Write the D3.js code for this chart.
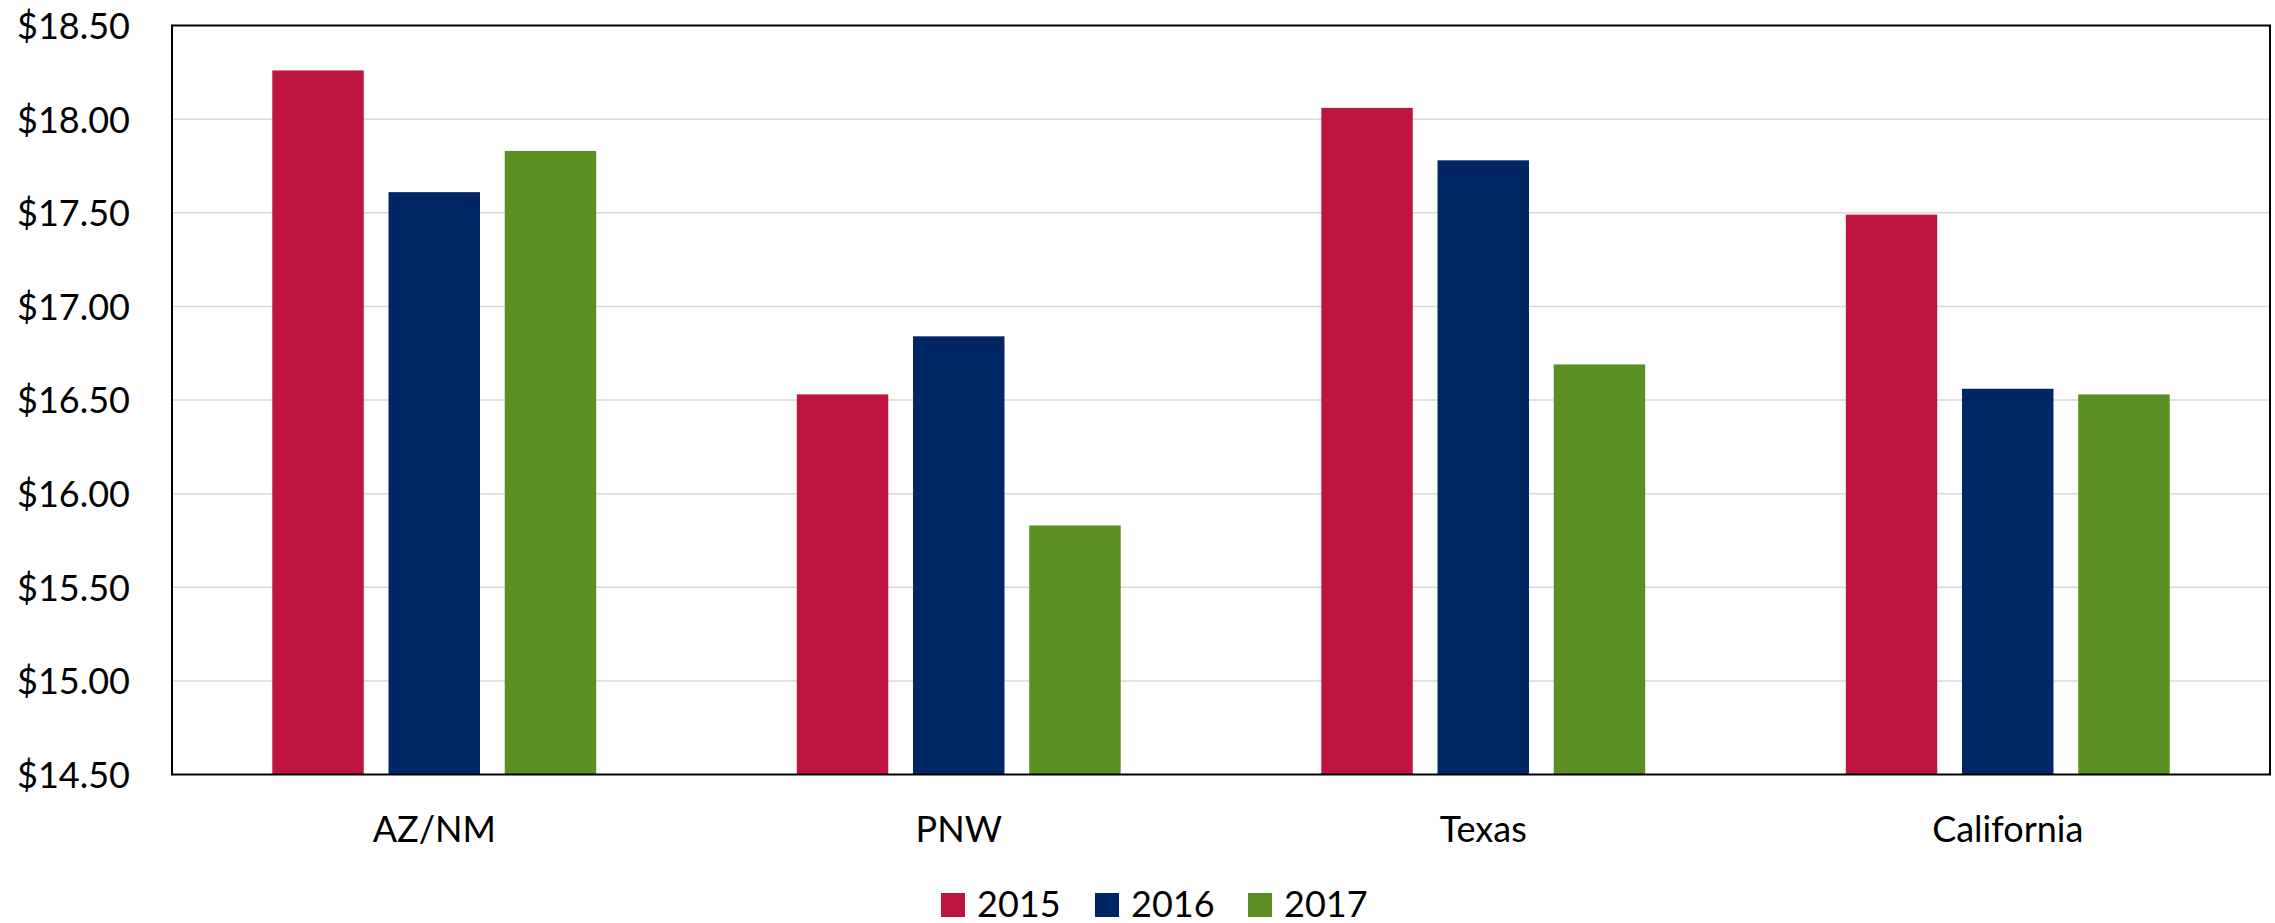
<!DOCTYPE html>
<html>
<head>
<meta charset="utf-8">
<script src="https://cdn.jsdelivr.net/npm/d3@7"></script>
<style>
  html, body { margin: 0; padding: 0; background: #fff; }
  svg text { font-family: Lato, "Open Sans", sans-serif; fill: #000; }
</style>
</head>
<body>
<svg id="chart" width="2275" height="923"></svg>
<script>
var regions = ["AZ/NM", "PNW", "Texas", "California"];
var years = ["2015", "2016", "2017"];
var wages2015 = [18.26, 16.53, 18.06, 17.49];
var wages2016 = [17.61, 16.84, 17.78, 16.56];
var wages2017 = [17.83, 15.83, 16.69, 16.53];
var yTicks = [14.5, 15, 15.5, 16, 16.5, 17, 17.5, 18, 18.5];
var colors = ["#BD1540", "#002663", "#5C8F22"];

var series = [wages2015, wages2016, wages2017];

var svg = d3.select("#chart");
var plotLeft = 172, plotRight = 2270, plotTop = 25.5, plotBottom = 774.5;

var x0 = d3.scaleBand()
    .domain(regions)
    .range([plotLeft, plotRight])
    .paddingInner(0)
    .paddingOuter(0);

var x1 = d3.scaleBand()
    .domain(years)
    .range([0, x0.bandwidth()])
    .paddingInner(0.213)
    .paddingOuter(0.863);

var y = d3.scaleLinear()
    .domain([14.5, 18.5])
    .range([plotBottom, plotTop]);

var color = d3.scaleOrdinal().domain(years).range(colors);

// gridlines
svg.append("g")
    .selectAll("line")
    .data(yTicks.slice(1, -1))
    .join("line")
    .attr("x1", plotLeft)
    .attr("x2", plotRight)
    .attr("y1", function(d) { return y(d); })
    .attr("y2", function(d) { return y(d); })
    .attr("stroke", "#d9d9d9")
    .attr("stroke-width", 1.5);

// bars
var groups = svg.append("g")
    .selectAll("g")
    .data(regions)
    .join("g")
    .attr("transform", function(d) { return "translate(" + x0(d) + ",0)"; });

groups.selectAll("rect")
    .data(function(d, i) {
        return years.map(function(yr, j) { return { year: yr, value: series[j][i] }; });
    })
    .join("rect")
    .attr("x", function(d) { return x1(d.year); })
    .attr("width", x1.bandwidth())
    .attr("y", function(d) { return y(d.value); })
    .attr("height", function(d) { return plotBottom - y(d.value); })
    .attr("fill", function(d) { return color(d.year); });

// frame
svg.append("rect")
    .attr("x", plotLeft)
    .attr("y", plotTop)
    .attr("width", plotRight - plotLeft)
    .attr("height", plotBottom - plotTop)
    .attr("fill", "none")
    .attr("stroke", "#000")
    .attr("stroke-width", 2);

// y axis labels
var yAxis = d3.axisLeft(y)
    .tickValues(yTicks)
    .tickFormat(d3.format("$.2f"))
    .tickSize(0)
    .tickPadding(42);

var yg = svg.append("g")
    .attr("transform", "translate(" + plotLeft + ",0)")
    .call(yAxis);
yg.select(".domain").remove();
yg.attr("font-family", null).attr("font-size", null);
yg.selectAll("text")
    .attr("font-size", 36)
    .attr("dy", "0.36em");

// x axis labels
var xAxis = d3.axisBottom(x0)
    .tickSize(0)
    .tickPadding(42);

var xg = svg.append("g")
    .attr("transform", "translate(0," + plotBottom + ")")
    .call(xAxis);
xg.select(".domain").remove();
xg.attr("font-family", null).attr("font-size", null);
xg.selectAll("text")
    .attr("font-size", 36)
    .attr("dy", "0.71em");

// legend
var legendX = [941, 1095, 1248];
var legend = svg.append("g")
    .selectAll("g")
    .data(years)
    .join("g")
    .attr("transform", function(d, i) { return "translate(" + legendX[i] + ",893)"; });

legend.append("rect")
    .attr("width", 24)
    .attr("height", 24)
    .attr("fill", function(d) { return color(d); });

legend.append("text")
    .attr("x", 36)
    .attr("y", 24)
    .attr("font-size", 36)
    .text(function(d) { return d; });
</script>
</body>
</html>
